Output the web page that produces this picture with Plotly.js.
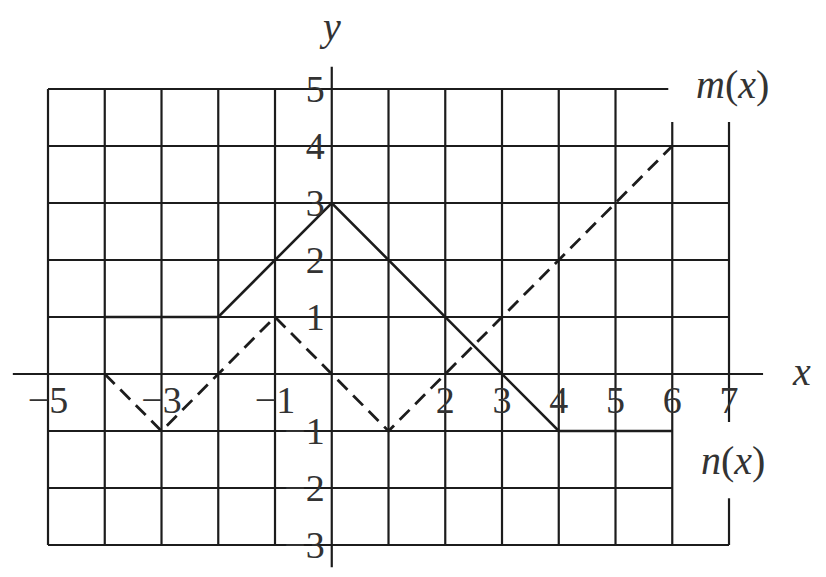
<!DOCTYPE html>
<html>
<head>
<meta charset="utf-8">
<script src="https://cdn.plot.ly/plotly-3.0.1.min.js"></script>
<style>
  html, body { margin: 0; padding: 0; background: #fff; }
  #chart { width: 826px; height: 577px; }
</style>
</head>
<body>
<div id="chart"></div>
<script>
// m(x): solid, n(x): dashed
var mX = [-4, -2, 0, 4, 6];
var mY = [1, 1, 3, -1, -1];
var nX = [-4, -3, -1, 1, 6];
var nY = [0, -1, 1, -1, 4];

var xTicks = [-5, -3, -1, 2, 3, 4, 5, 6, 7];
var yTicks = [-3, -2, -1, 1, 2, 3, 4, 5];
var gridX = [-5, -4, -3, -2, -1, 1, 2, 3, 4, 5, 6, 7];
var gridY = [-3, -2, -1, 1, 2, 3, 4, 5];

function lbl(v) {
  return v < 0 ? '\u2212' + Math.abs(v) : String(v);
}

var ink = '#1c1c1c';
var serif = 'Liberation Serif, Times New Roman, serif';

// axis ranges so that one unit is ~57px and the grid lands where the picture has it
var xr = [-5.846, 8.709];
var yr = [-3.561, 6.561];

var shapes = [];
function seg(x0, y0, x1, y1) {
  shapes.push({
    type: 'line', xref: 'x', yref: 'y', layer: 'below',
    x0: x0, y0: y0, x1: x1, y1: y1,
    line: {color: ink, width: 2.2}
  });
}

// horizontal grid lines (they stop at different x on the right)
gridY.forEach(function (y) {
  var right = 7;
  if (y === 5) right = 5.93;
  if (y === -1 || y === -2) right = 6;
  seg(-5, y, right, y);
});
// vertical grid lines
gridX.forEach(function (x) {
  if (x === 6) {
    seg(x, -3, x, 4.42);
  } else if (x === 7) {
    seg(x, 4.42, x, -0.84);
    seg(x, -2.18, x, -3);
  } else {
    seg(x, -3, x, 5);
  }
});
// the two axes
seg(-5.62, 0, 7.6, 0);
seg(0, -3.39, 0, 5.39);

var traceM = {
  x: mX, y: mY,
  type: 'scatter', mode: 'lines',
  name: 'm(x)',
  line: {color: ink, width: 2.6},
  hoverinfo: 'skip'
};

var traceN = {
  x: nX, y: nY,
  type: 'scatter', mode: 'lines',
  name: 'n(x)',
  line: {color: ink, width: 2.8, dash: '14px,8px'},
  hoverinfo: 'skip'
};

var data = [traceM, traceN];

var layout = {
  width: 826,
  height: 577,
  margin: {l: 0, r: 0, t: 0, b: 0},
  paper_bgcolor: '#fff',
  plot_bgcolor: '#fff',
  showlegend: false,
  font: {family: serif, color: ink, size: 38},
  xaxis: {
    range: xr,
    anchor: 'free',
    position: (0 - yr[0]) / (yr[1] - yr[0]),
    showgrid: false, zeroline: false, showline: false,
    ticks: '',
    tickmode: 'array',
    tickvals: xTicks,
    ticktext: xTicks.map(lbl),
    tickfont: {family: serif, size: 38, color: '#333'}
  },
  yaxis: {
    range: yr,
    anchor: 'free',
    position: (0 - xr[0]) / (xr[1] - xr[0]),
    showgrid: false, zeroline: false, showline: false,
    ticks: '',
    ticklabelstandoff: 7,
    tickmode: 'array',
    tickvals: yTicks,
    ticktext: yTicks.map(lbl),
    tickfont: {family: serif, size: 38, color: '#333'}
  },
  shapes: shapes,
  annotations: [
    {x: -0.03, y: 6.1, xref: 'x', yref: 'y', text: '<i>y</i>', showarrow: false,
     font: {family: serif, size: 40, color: '#333'}},
    {x: 8.27, y: 0.05, xref: 'x', yref: 'y', text: '<i>x</i>', showarrow: false,
     font: {family: serif, size: 40, color: '#333'}},
    {x: 7.07, y: 5.07, xref: 'x', yref: 'y', text: '<i>m</i>(<i>x</i>)', showarrow: false,
     font: {family: serif, size: 40, color: '#333'}},
    {x: 7.07, y: -1.51, xref: 'x', yref: 'y', text: '<i>n</i>(<i>x</i>)', showarrow: false,
     font: {family: serif, size: 40, color: '#333'}}
  ]
};

var config = {staticPlot: true};

Plotly.newPlot('chart', data, layout, config);
</script>
</body>
</html>
